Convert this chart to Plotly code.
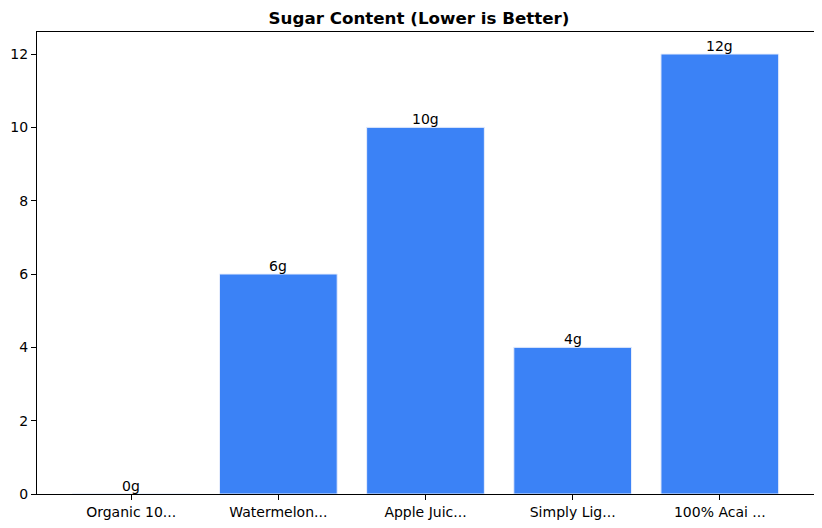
import plotly.graph_objects as go

# Data
products = ["Organic 10...", "Watermelon...", "Apple Juic...", "Simply Lig...", "100% Acai ..."]
sugar = [0, 6, 10, 4, 12]
labels = [f"{v}g" for v in sugar]

fig = go.Figure(
    go.Bar(
        x=list(range(len(products))),
        y=sugar,
        width=0.8,
        marker=dict(color="#3b82f6", line=dict(color="#e8eefc", width=1)),
    )
)

# value labels sitting right on top of each bar
for i, (v, lab) in enumerate(zip(sugar, labels)):
    fig.add_annotation(
        x=i, y=v, text=lab, showarrow=False,
        xanchor="center", yanchor="bottom", yshift=-2,
        font=dict(size=14, color="black"),
    )

axis_common = dict(
    showline=True,
    linecolor="black",
    linewidth=1,
    mirror=True,
    ticks="outside",
    ticklen=5,
    tickcolor="black",
    showgrid=False,
    zeroline=False,
    automargin=False,
    tickfont=dict(size=14, color="black"),
)

# page is drawn with an ~8px body offset, so margins are shifted to compensate
fig.update_layout(
    title=dict(
        text="<b>Sugar Content (Lower is Better)</b>",
        x=0.5,
        xanchor="center",
        y=0.98,
        yanchor="middle",
        font=dict(size=16.7, color="black"),
    ),
    font=dict(family="DejaVu Sans"),
    width=822,
    height=528,
    margin=dict(l=29, r=16, t=24, b=42),
    plot_bgcolor="white",
    paper_bgcolor="white",
    showlegend=False,
    xaxis=dict(
        tickmode="array",
        tickvals=list(range(len(products))),
        ticktext=products,
        range=[-0.64, 4.64],
        **axis_common,
    ),
    yaxis=dict(range=[0, 12.6], dtick=2, **axis_common),
)

fig.write_html("out.html")
